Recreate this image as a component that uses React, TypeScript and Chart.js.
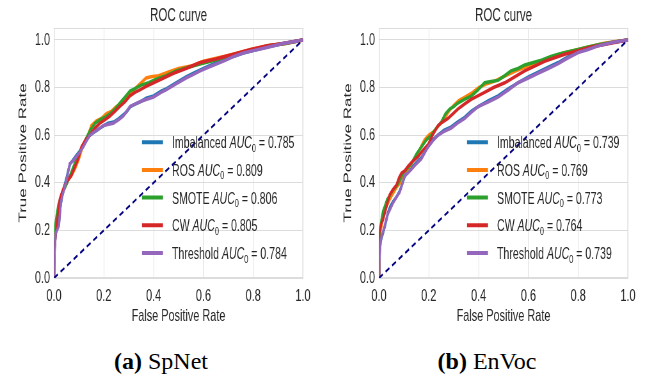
import React, { useEffect, useRef } from 'react';
import { Chart, registerables } from 'chart.js';

Chart.register(...registerables);

// ---------- data ----------
const methods = ['Imbalanced', 'ROS', 'SMOTE', 'CW', 'Threshold'];
const colors = ['#1f77b4', '#ff7f0e', '#2ca02c', '#d62728', '#9467bd'];
const axisTicks = [0, 0.2, 0.4, 0.6, 0.8, 1.0];
const diagonalX = [0, 1];
const diagonalY = [0, 1];

const spnetAuc = [0.785, 0.809, 0.806, 0.805, 0.784];
const envocAuc = [0.739, 0.769, 0.773, 0.764, 0.739];

// SpNet curves
const spnetImbFpr = [0, 0.001, 0.004, 0.008, 0.013, 0.02, 0.026, 0.032, 0.04, 0.05, 0.058, 0.065, 0.076, 0.09, 0.105, 0.118, 0.13, 0.145, 0.158, 0.172, 0.186, 0.2, 0.217, 0.24, 0.26, 0.278, 0.293, 0.307, 0.326, 0.346, 0.37, 0.4, 0.43, 0.452, 0.49, 0.53, 0.56, 0.59, 0.62, 0.655, 0.69, 0.72, 0.76, 0.8, 0.855, 0.92, 1];
const spnetImbTpr = [0, 0.09, 0.15, 0.19, 0.21, 0.23, 0.3, 0.34, 0.38, 0.42, 0.455, 0.48, 0.495, 0.515, 0.535, 0.555, 0.58, 0.6, 0.61, 0.62, 0.63, 0.64, 0.65, 0.655, 0.67, 0.685, 0.7, 0.72, 0.73, 0.74, 0.755, 0.765, 0.785, 0.795, 0.82, 0.845, 0.86, 0.875, 0.89, 0.905, 0.92, 0.93, 0.945, 0.955, 0.97, 0.985, 1];
const spnetRosFpr = [0, 0.002, 0.006, 0.012, 0.02, 0.03, 0.042, 0.056, 0.07, 0.085, 0.1, 0.115, 0.13, 0.15, 0.17, 0.19, 0.21, 0.23, 0.25, 0.27, 0.29, 0.31, 0.33, 0.35, 0.37, 0.39, 0.42, 0.46, 0.5, 0.55, 0.6, 0.66, 0.72, 0.79, 0.86, 0.93, 1];
const spnetRosTpr = [0, 0.14, 0.2, 0.26, 0.31, 0.35, 0.38, 0.41, 0.43, 0.46, 0.5, 0.55, 0.58, 0.64, 0.66, 0.67, 0.69, 0.7, 0.72, 0.73, 0.76, 0.78, 0.8, 0.82, 0.84, 0.845, 0.85, 0.865, 0.88, 0.89, 0.91, 0.925, 0.94, 0.96, 0.975, 0.985, 1];
const spnetSmoteFpr = [0, 0.002, 0.005, 0.01, 0.018, 0.028, 0.04, 0.053, 0.068, 0.083, 0.098, 0.112, 0.128, 0.145, 0.165, 0.185, 0.205, 0.225, 0.245, 0.265, 0.285, 0.305, 0.325, 0.35, 0.38, 0.41, 0.45, 0.49, 0.54, 0.59, 0.65, 0.72, 0.79, 0.86, 0.93, 1];
const spnetSmoteTpr = [0, 0.16, 0.22, 0.26, 0.31, 0.34, 0.37, 0.4, 0.44, 0.48, 0.52, 0.55, 0.585, 0.62, 0.65, 0.665, 0.675, 0.69, 0.71, 0.735, 0.76, 0.785, 0.795, 0.81, 0.82, 0.835, 0.85, 0.87, 0.885, 0.9, 0.915, 0.935, 0.955, 0.975, 0.985, 1];
const spnetCwFpr = [0, 0.002, 0.006, 0.01, 0.016, 0.023, 0.032, 0.043, 0.055, 0.07, 0.085, 0.097, 0.11, 0.127, 0.144, 0.165, 0.184, 0.205, 0.224, 0.245, 0.264, 0.285, 0.305, 0.325, 0.345, 0.37, 0.4, 0.44, 0.48, 0.53, 0.587, 0.65, 0.72, 0.79, 0.855, 0.92, 1];
const spnetCwTpr = [0, 0.12, 0.17, 0.21, 0.27, 0.33, 0.36, 0.39, 0.41, 0.43, 0.47, 0.5, 0.55, 0.58, 0.6, 0.63, 0.65, 0.665, 0.68, 0.7, 0.72, 0.74, 0.765, 0.78, 0.79, 0.805, 0.82, 0.84, 0.86, 0.88, 0.905, 0.92, 0.94, 0.96, 0.975, 0.985, 1];
const spnetThrFpr = [0, 0.001, 0.004, 0.007, 0.012, 0.02, 0.025, 0.03, 0.04, 0.05, 0.058, 0.063, 0.075, 0.09, 0.105, 0.117, 0.13, 0.144, 0.157, 0.17, 0.185, 0.197, 0.215, 0.238, 0.26, 0.278, 0.292, 0.305, 0.325, 0.345, 0.37, 0.4, 0.43, 0.45, 0.49, 0.53, 0.56, 0.587, 0.62, 0.654, 0.69, 0.72, 0.76, 0.8, 0.855, 0.92, 1];
const spnetThrTpr = [0, 0.077, 0.14, 0.19, 0.2, 0.22, 0.29, 0.33, 0.37, 0.41, 0.45, 0.48, 0.49, 0.51, 0.53, 0.55, 0.575, 0.6, 0.61, 0.62, 0.63, 0.64, 0.645, 0.65, 0.665, 0.68, 0.7, 0.72, 0.73, 0.74, 0.75, 0.76, 0.78, 0.79, 0.815, 0.84, 0.855, 0.87, 0.885, 0.9, 0.915, 0.93, 0.945, 0.955, 0.968, 0.985, 1];

// EnVoc curves
const envocImbFpr = [0, 0.001, 0.004, 0.007, 0.015, 0.023, 0.03, 0.036, 0.045, 0.056, 0.07, 0.083, 0.095, 0.103, 0.115, 0.13, 0.15, 0.17, 0.185, 0.197, 0.215, 0.237, 0.26, 0.29, 0.315, 0.344, 0.37, 0.398, 0.44, 0.478, 0.52, 0.558, 0.6, 0.639, 0.68, 0.72, 0.76, 0.8, 0.84, 0.88, 0.94, 1];
const envocImbTpr = [0, 0.07, 0.13, 0.155, 0.185, 0.215, 0.245, 0.275, 0.3, 0.32, 0.34, 0.365, 0.4, 0.425, 0.445, 0.46, 0.485, 0.505, 0.53, 0.555, 0.58, 0.6, 0.62, 0.635, 0.655, 0.675, 0.7, 0.72, 0.745, 0.765, 0.795, 0.82, 0.845, 0.865, 0.885, 0.905, 0.93, 0.95, 0.965, 0.978, 0.99, 1];
const envocRosFpr = [0, 0.001, 0.005, 0.012, 0.02, 0.03, 0.043, 0.056, 0.07, 0.085, 0.1, 0.115, 0.13, 0.15, 0.168, 0.183, 0.2, 0.22, 0.24, 0.26, 0.28, 0.3, 0.32, 0.345, 0.37, 0.4, 0.43, 0.46, 0.49, 0.52, 0.55, 0.585, 0.62, 0.66, 0.7, 0.74, 0.78, 0.82, 0.86, 0.9, 0.95, 1];
const envocRosTpr = [0, 0.14, 0.19, 0.23, 0.27, 0.3, 0.33, 0.355, 0.38, 0.4, 0.43, 0.455, 0.48, 0.51, 0.55, 0.58, 0.6, 0.615, 0.64, 0.665, 0.7, 0.725, 0.745, 0.76, 0.775, 0.8, 0.815, 0.825, 0.84, 0.855, 0.87, 0.885, 0.9, 0.915, 0.93, 0.945, 0.955, 0.965, 0.975, 0.985, 0.993, 1];
const envocSmoteFpr = [0, 0.001, 0.004, 0.01, 0.016, 0.023, 0.033, 0.043, 0.056, 0.07, 0.083, 0.096, 0.113, 0.13, 0.15, 0.17, 0.19, 0.21, 0.23, 0.25, 0.267, 0.284, 0.3, 0.317, 0.343, 0.37, 0.397, 0.424, 0.45, 0.478, 0.505, 0.53, 0.558, 0.585, 0.62, 0.652, 0.69, 0.72, 0.76, 0.8, 0.84, 0.88, 0.94, 1];
const envocSmoteTpr = [0, 0.16, 0.2, 0.245, 0.28, 0.3, 0.33, 0.345, 0.37, 0.386, 0.41, 0.44, 0.46, 0.48, 0.52, 0.55, 0.58, 0.6, 0.63, 0.655, 0.69, 0.71, 0.72, 0.735, 0.75, 0.764, 0.79, 0.82, 0.825, 0.83, 0.85, 0.87, 0.88, 0.895, 0.905, 0.915, 0.93, 0.94, 0.95, 0.96, 0.97, 0.98, 0.99, 1];
const envocCwFpr = [0, 0.001, 0.005, 0.01, 0.016, 0.025, 0.035, 0.043, 0.055, 0.07, 0.08, 0.09, 0.103, 0.117, 0.135, 0.157, 0.175, 0.197, 0.215, 0.237, 0.255, 0.277, 0.297, 0.317, 0.343, 0.37, 0.397, 0.424, 0.46, 0.505, 0.545, 0.585, 0.625, 0.665, 0.705, 0.746, 0.8, 0.853, 0.9, 0.95, 1];
const envocCwTpr = [0, 0.19, 0.21, 0.23, 0.245, 0.28, 0.32, 0.35, 0.37, 0.39, 0.42, 0.44, 0.45, 0.47, 0.49, 0.51, 0.535, 0.56, 0.6, 0.64, 0.655, 0.67, 0.69, 0.71, 0.73, 0.75, 0.765, 0.78, 0.8, 0.82, 0.845, 0.87, 0.89, 0.91, 0.925, 0.94, 0.955, 0.97, 0.98, 0.99, 1];
const envocThrFpr = [0, 0.001, 0.004, 0.007, 0.015, 0.023, 0.03, 0.036, 0.045, 0.056, 0.07, 0.083, 0.095, 0.103, 0.115, 0.13, 0.15, 0.17, 0.185, 0.197, 0.215, 0.237, 0.26, 0.29, 0.315, 0.344, 0.37, 0.398, 0.44, 0.478, 0.52, 0.558, 0.6, 0.639, 0.68, 0.72, 0.76, 0.8, 0.84, 0.88, 0.94, 1];
const envocThrTpr = [0, 0.063, 0.12, 0.16, 0.19, 0.22, 0.25, 0.27, 0.29, 0.315, 0.34, 0.36, 0.4, 0.43, 0.44, 0.456, 0.48, 0.5, 0.53, 0.55, 0.575, 0.6, 0.615, 0.63, 0.65, 0.67, 0.695, 0.72, 0.74, 0.76, 0.79, 0.82, 0.84, 0.86, 0.88, 0.9, 0.925, 0.947, 0.96, 0.975, 0.99, 1];

const spnetFprs = [spnetImbFpr, spnetRosFpr, spnetSmoteFpr, spnetCwFpr, spnetThrFpr];
const spnetTprs = [spnetImbTpr, spnetRosTpr, spnetSmoteTpr, spnetCwTpr, spnetThrTpr];
const envocFprs = [envocImbFpr, envocRosFpr, envocSmoteFpr, envocCwFpr, envocThrFpr];
const envocTprs = [envocImbTpr, envocRosTpr, envocSmoteTpr, envocCwTpr, envocThrTpr];

// ---------- layout ----------
const SX = 0.64; // horizontal squeeze of the whole figure
const CANVAS_H = 335;
const FONT = "'Liberation Sans', Arial, sans-serif";
const TEXT = '#262626';
const GRID = '#dcdcdc';

type PanelProps = {
  left: number;
  width: number;
  fprs: number[][];
  tprs: number[][];
  aucs: number[];
};

function RocPanel({ left, width, fprs, tprs, aucs }: PanelProps) {
  const ref = useRef<HTMLCanvasElement>(null);
  const W = Math.round(width / SX);
  const plotLeft = 54 / SX;
  const plotRight = 303 / SX;

  useEffect(() => {
    if (!ref.current) return;
    const datasets: any[] = methods.map((m, i) => ({
      label: m,
      data: fprs[i].map((x, j) => ({ x, y: tprs[i][j] })),
      borderColor: colors[i],
      borderWidth: 3.5,
      pointRadius: 0,
      showLine: true,
      fill: false,
      tension: 0,
      order: 5 - i,
    }));
    datasets.push({
      label: 'chance',
      data: diagonalX.map((x, j) => ({ x, y: diagonalY[j] })),
      borderColor: '#000080',
      borderWidth: 2.2,
      borderDash: [7, 5],
      pointRadius: 0,
      showLine: true,
      fill: false,
      order: 0,
    });

    const framePlugin = {
      id: 'frame',
      beforeDatasetsDraw(chart: any) {
        const { ctx, chartArea: a } = chart;
        ctx.save();
        ctx.strokeStyle = GRID;
        ctx.lineWidth = 1;
        ctx.strokeRect(a.left + 0.5, a.top + 0.5, a.right - a.left - 1, a.bottom - a.top - 1);
        ctx.restore();
      },
    };

    const legendPlugin = {
      id: 'aucLegend',
      afterDatasetsDraw(chart: any) {
        const { ctx, chartArea: a } = chart;
        const hx0 = a.left + 88 / SX;
        const hx1 = hx0 + 21 / SX;
        const tx0 = hx0 + 30 / SX;
        const fs = 16.5;
        methods.forEach((m, i) => {
          const y = a.bottom - 25 - (methods.length - 1 - i) * 27.7;
          ctx.save();
          ctx.strokeStyle = colors[i];
          ctx.lineWidth = 4;
          ctx.beginPath();
          ctx.moveTo(hx0, y);
          ctx.lineTo(hx1, y);
          ctx.stroke();
          ctx.fillStyle = TEXT;
          ctx.textBaseline = 'alphabetic';
          ctx.textAlign = 'left';
          const base = y + 6;
          let x = tx0;
          ctx.font = `${fs}px ${FONT}`;
          const t1 = m + ' ';
          ctx.fillText(t1, x, base);
          x += ctx.measureText(t1).width;
          ctx.font = `italic ${fs}px ${FONT}`;
          ctx.fillText('AUC', x, base);
          x += ctx.measureText('AUC').width;
          ctx.font = `${fs * 0.7}px ${FONT}`;
          ctx.fillText('0', x, base + 3.5);
          x += ctx.measureText('0').width;
          ctx.font = `${fs}px ${FONT}`;
          ctx.fillText(' = ' + aucs[i].toFixed(3), x, base);
          ctx.restore();
        });
      },
    };

    const chart = new Chart(ref.current, {
      type: 'scatter',
      data: { datasets },
      plugins: [framePlugin, legendPlugin],
      options: {
        animation: false,
        responsive: false,
        devicePixelRatio: 1,
        layout: { padding: { left: 0, right: W - plotRight, top: 0, bottom: 0 } },
        plugins: {
          legend: { display: false },
          tooltip: { enabled: false },
          title: {
            display: true,
            text: 'ROC curve',
            fullSize: false,
            color: TEXT,
            font: { family: FONT, size: 18, weight: 'normal' },
            padding: { top: 5.2, bottom: 1.2 },
          },
        },
        scales: {
          x: {
            type: 'linear',
            min: 0,
            max: 1,
            afterBuildTicks: (s: any) => { s.ticks = axisTicks.map((v) => ({ value: v })); },
            afterFit: (s: any) => { s.height = CANVAS_H - 278; },
            ticks: {
              color: TEXT,
              font: { family: FONT, size: 17 },
              padding: 7.8,
              maxRotation: 0,
              autoSkip: false,
              callback: (v: any) => Number(v).toFixed(1),
            },
            grid: { color: GRID, drawTicks: false },
            border: { color: GRID },
            title: {
              display: true,
              text: 'False Positive Rate',
              color: TEXT,
              font: { family: FONT, size: 17 },
              padding: { top: 0, bottom: 8.8 },
            },
          },
          y: {
            type: 'linear',
            min: 0,
            max: 1.05,
            afterBuildTicks: (s: any) => { s.ticks = axisTicks.map((v) => ({ value: v })); },
            afterFit: (s: any) => { s.width = plotLeft; },
            ticks: {
              color: TEXT,
              font: { family: FONT, size: 17 },
              padding: 6.2,
              autoSkip: false,
              callback: (v: any) => Number(v).toFixed(1),
            },
            grid: { color: GRID, drawTicks: false },
            border: { color: GRID },
            title: {
              display: true,
              text: 'True Positive Rate',
              color: TEXT,
              font: { family: FONT, size: 17 },
              padding: { top: 25.8, bottom: 0 },
            },
          },
        },
      } as any,
    });
    return () => chart.destroy();
  }, []);

  return (
    <div
      style={{
        position: 'absolute',
        left,
        top: 0,
        width: W,
        height: CANVAS_H,
        transform: `scaleX(${SX})`,
        transformOrigin: 'left top',
      }}
    >
      <canvas ref={ref} width={W} height={CANVAS_H} style={{ display: 'block' }} />
    </div>
  );
}

const captionStyle: React.CSSProperties = {
  position: 'absolute',
  top: 349,
  height: 26,
  textAlign: 'center',
  fontFamily: "'Liberation Serif', 'Times New Roman', serif",
  fontSize: 24,
  lineHeight: '24px',
  color: '#000',
  whiteSpace: 'nowrap',
};

export default function App() {
  return (
    <div
      style={{
        position: 'absolute',
        left: 0,
        top: 0,
        width: 649,
        height: 376,
        background: '#fff',
        overflow: 'hidden',
      }}
    >
      <RocPanel left={0} width={325} fprs={spnetFprs} tprs={spnetTprs} aucs={spnetAuc} />
      <RocPanel left={325} width={324} fprs={envocFprs} tprs={envocTprs} aucs={envocAuc} />
      <div style={{ ...captionStyle, left: 0, width: 322 }}>
        <b>(a)</b> SpNet
      </div>
      <div style={{ ...captionStyle, left: 325, width: 324 }}>
        <b>(b)</b> EnVoc
      </div>
    </div>
  );
}
